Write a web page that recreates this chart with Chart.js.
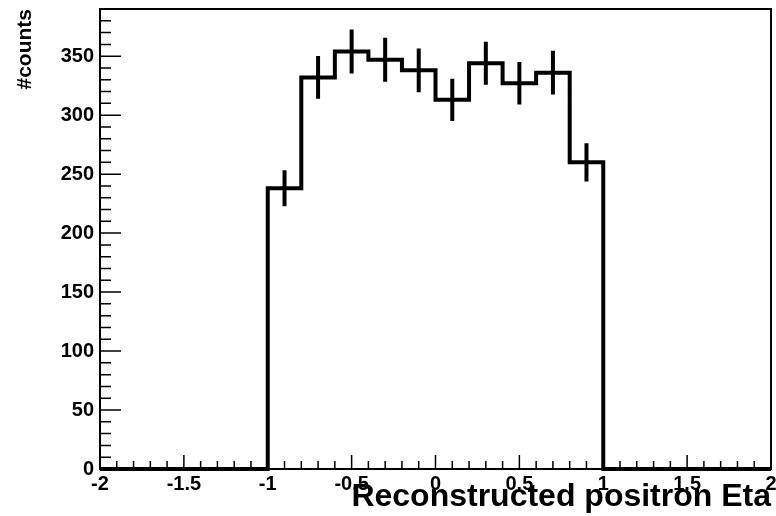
<!DOCTYPE html>
<html>
<head>
<meta charset="utf-8">
<script src="https://cdn.jsdelivr.net/npm/chart.js@4.4.0/dist/chart.umd.min.js"></script>
<style>
  body { margin: 0; background: #fff; }
</style>
</head>
<body>
<canvas id="etaChart" width="776" height="516"></canvas>
<script>
// histogram bins (low edges + last upper edge), counts and errors
const binEdges = [-2, -1.8, -1.6, -1.4, -1.2, -1, -0.8, -0.6, -0.4, -0.2, 0,
                  0.2, 0.4, 0.6, 0.8, 1, 1.2, 1.4, 1.6, 1.8, 2];
const binCounts = [0, 0, 0, 0, 0, 238, 332, 354, 347, 338,
                   313, 344, 327, 336, 260, 0, 0, 0, 0, 0];
const binErrors = [0, 0, 0, 0, 0, 15.2, 18.1, 18.7, 18.7, 18.6,
                   17.9, 18.2, 18.0, 18.5, 16.2, 0, 0, 0, 0, 0];
const xTickValues = [-2, -1.5, -1, -0.5, 0, 0.5, 1, 1.5, 2];
const yTickValues = [0, 50, 100, 150, 200, 250, 300, 350];

const FONT = "'Liberation Sans', Arial, Helvetica, sans-serif";

function buildStepData() {
    let pts = [];
    for (let i = 0; i < binCounts.length; i++) {
        pts.push({ x: binEdges[i], y: binCounts[i] });
    }
    pts.push({ x: binEdges[binEdges.length - 1], y: binCounts[binCounts.length - 1] });
    return pts;
}

function buildErrorData() {
    let pts = [];
    for (let i = 0; i < binCounts.length; i++) {
        if (binCounts[i] <= 0) continue;
        const center = (binEdges[i] + binEdges[i + 1]) / 2;
        pts.push({ x: center, y: binCounts[i] - binErrors[i] });
        pts.push({ x: center, y: binCounts[i] + binErrors[i] });
        pts.push({ x: center, y: null });
    }
    return pts;
}

// ROOT-like frame with inward tick marks
const rootFrame = {
    id: 'rootFrame',
    afterDatasetsDraw(chart) {
        const ctx = chart.ctx;
        const area = chart.chartArea;
        const xs = chart.scales.x;
        const ys = chart.scales.y;
        ctx.save();
        ctx.strokeStyle = '#000';
        ctx.lineWidth = 2;
        ctx.strokeRect(area.left, area.top, area.right - area.left, area.bottom - area.top);
        ctx.lineWidth = 1.5;
        ctx.beginPath();
        for (let v = 0; v <= ys.max; v += 10) {
            const py = ys.getPixelForValue(v);
            const len = v % 50 === 0 ? 21 : 11;
            ctx.moveTo(area.left, py);
            ctx.lineTo(area.left + len, py);
        }
        for (let k = -20; k <= 20; k++) {
            const px = xs.getPixelForValue(k / 10);
            const len = k % 5 === 0 ? 14 : 8;
            ctx.moveTo(px, area.bottom);
            ctx.lineTo(px, area.bottom - len);
        }
        ctx.stroke();
        ctx.restore();
    }
};

new Chart(document.getElementById('etaChart'), {
    type: 'line',
    data: {
        datasets: [
            {
                data: buildStepData(),
                stepped: 'before',
                borderColor: '#000',
                borderWidth: 4,
                borderCapStyle: 'butt',
                borderJoinStyle: 'miter',
                pointRadius: 0,
                fill: false,
                clip: false
            },
            {
                data: buildErrorData(),
                borderColor: '#000',
                borderWidth: 4,
                borderCapStyle: 'butt',
                pointRadius: 0,
                spanGaps: false,
                fill: false,
                clip: false
            }
        ]
    },
    options: {
        responsive: false,
        animation: false,
        layout: { padding: { top: 9, right: 5, left: 0, bottom: 0 } },
        plugins: {
            legend: { display: false },
            tooltip: { enabled: false }
        },
        scales: {
            x: {
                type: 'linear',
                min: -2,
                max: 2,
                afterFit: (scale) => {
                    scale.height = 47;
                    scale.paddingLeft = 0;
                    scale.paddingRight = 0;
                },
                grid: { display: false, drawTicks: false },
                border: { display: false },
                afterBuildTicks: (scale) => { scale.ticks = xTickValues.map(v => ({ value: v })); },
                ticks: {
                    padding: 3,
                    maxRotation: 0,
                    autoSkip: false,
                    color: '#000',
                    font: { family: FONT, size: 20, weight: 'bold' },
                    callback: (v) => String(v)
                },
                title: {
                    display: true,
                    text: 'Reconstructed positron Eta',
                    align: 'end',
                    color: '#000',
                    padding: { top: 0, bottom: 0 },
                    font: { family: FONT, size: 32, weight: 'bold' }
                }
            },
            y: {
                min: 0,
                max: 390,
                afterFit: (scale) => {
                    scale.width = 100;
                    scale.paddingTop = 0;
                    scale.paddingBottom = 0;
                },
                grid: { display: false, drawTicks: false },
                border: { display: false },
                afterBuildTicks: (scale) => { scale.ticks = yTickValues.map(v => ({ value: v })); },
                ticks: {
                    padding: 6,
                    color: '#000',
                    font: { family: FONT, size: 20, weight: 'bold' }
                },
                title: {
                    display: true,
                    text: '#counts',
                    align: 'end',
                    color: '#000',
                    padding: { top: 13, bottom: 0 },
                    font: { family: FONT, size: 21, weight: 'bold' }
                }
            }
        }
    },
    plugins: [rootFrame]
});
</script>
</body>
</html>
